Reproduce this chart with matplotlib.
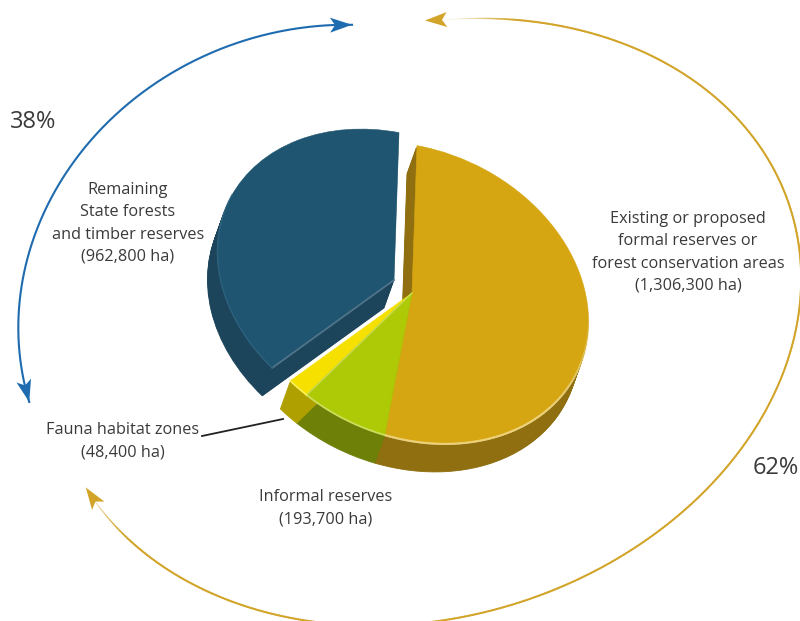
import numpy as np
import matplotlib
matplotlib.use("Agg")
import matplotlib.pyplot as plt
from matplotlib.collections import LineCollection
from matplotlib.colors import to_rgba
from matplotlib.patches import Wedge, Polygon
from matplotlib.transforms import Affine2D

plt.rcParams['font.family'] = ['Open Sans', 'DejaVu Sans']

# Area of each forest tenure class, in hectares
areas = [1306300, 193700, 48400, 962800]
top_colors = ['#D5A612', '#AEC905', '#F5E000', '#1F5570']
side_colors = ['#8F6F10', '#6E8008', '#AFA000', '#1C455C']
offsets = [(0, 0), (0, 0), (0, 0), (-18, -13)]

label_lines = [
    (['Remaining', 'State forests', 'and timber reserves', '(962,800 ha)'], 128, 190),
    (['Existing or proposed', 'formal reserves or', 'forest conservation areas', '(1,306,300 ha)'], 688, 219),
    (['Fauna habitat zones', '(48,400 ha)'], 123, 430),
    (['Informal reserves', '(193,700 ha)'], 326, 497),
]
share_labels = [('38%', 33, 122), ('62%', 775.5, 468)]

# Tilted projection of the pie disc and the extrusion of its rim
CENTER = (412, 293)
AXES = (183, 143)
TILT = 25
DEPTH = (-10, 28)
START = 108.4

BLUE = '#1F6BB0'
GOLD = '#D2A52A'
TEXT = '#3A3A3A'

# Guide points of the two share arrows; each arrow follows the ellipse fitted to them
blue_guide = [(352, 25), (200, 57), (118, 113), (102, 130), (67, 170), (33, 240), (18, 317), (23, 373), (29, 402)]
gold_guide = [(447, 18), (600, 37), (667, 65), (717, 100), (750, 133), (777, 173), (795, 220), (800, 294),
              (760, 421), (727, 468), (683, 511), (633, 548), (600, 568), (313, 620), (213, 597), (147, 557),
              (100, 505), (87, 487)]

fig = plt.figure(figsize=(8, 6.21), dpi=100)
ax = fig.add_axes([0, 0, 1, 1])

wedges, _ = ax.pie(areas, startangle=START, counterclock=False, radius=1, center=(0, 0))


def disc(dx=0, dy=0):
    return (Affine2D().scale(AXES[0], -AXES[1]).rotate_deg(TILT)
            .translate(CENTER[0] + dx, CENTER[1] + dy))


def fading_line(xs, ys, color, widths, alphas, zorder):
    pts = np.column_stack([xs, ys])
    segs = np.stack([pts[:-1], pts[1:]], axis=1)
    r, g, b, _ = to_rgba(color)
    cols = [(r, g, b, a) for a in alphas[:-1]]
    ax.add_collection(LineCollection(segs, colors=cols, linewidths=widths[:-1], zorder=zorder,
                                     capstyle='round'))


# Side walls: the slice repeated along the depth direction, stopping short of the top face
for w, side, off in zip(wedges, side_colors, offsets):
    for f in np.linspace(1, 0.08, 27):
        copy = Wedge(w.center, w.r, w.theta1, w.theta2, facecolor=side, edgecolor=side, lw=0.6,
                     transform=disc(off[0] + DEPTH[0] * f, off[1] + DEPTH[1] * f) + ax.transData)
        ax.add_patch(copy)

# Top faces
for w, top, off in zip(wedges, top_colors, offsets):
    w.set_facecolor(top)
    w.set_edgecolor(top)
    w.set_linewidth(0.4)
    w.set_transform(disc(*off) + ax.transData)
    w.set_zorder(3)


def arc_points(theta1, theta2, off, n=200):
    t = np.radians(np.linspace(theta1, theta2, n))
    return disc(*off).transform(np.column_stack([np.cos(t), np.sin(t)]))


# Bevel highlights: lower rim of the gold slice, rim and seam of the green slice,
# rim of the yellow slice, lower edge and faint rim of the blue slice
gold_w, green_w, yellow_w, blue_w = wedges
rim = arc_points(gold_w.theta1, 22, offsets[0])
fade = np.clip(np.linspace(1.0, 0.0, len(rim)) * 2.2, 0, 1) * 0.9
fading_line(rim[:, 0], rim[:, 1], '#EDD27C', np.full(len(rim), 1.5), fade, 4)

rim = arc_points(green_w.theta1, green_w.theta2, offsets[1])
ax.plot(rim[:, 0], rim[:, 1], color='#CCDF5C', lw=1.3, zorder=4)
apex = disc(*offsets[1]).transform([(0, 0)])[0]
ax.plot([apex[0], rim[0, 0]], [apex[1], rim[0, 1]], color='#C4D84E', lw=1.1, zorder=4)

rim = arc_points(yellow_w.theta1, yellow_w.theta2, offsets[2])
ax.plot(rim[:, 0], rim[:, 1], color='#FBEF5A', lw=1.2, zorder=4)

rim = arc_points(blue_w.theta1, blue_w.theta2, offsets[3])
apex = disc(*offsets[3]).transform([(0, 0)])[0]
ax.plot([apex[0], rim[-1, 0]], [apex[1], rim[-1, 1]], color='#4F7389', lw=1.3, zorder=4)
low = arc_points(blue_w.theta2 - 70, blue_w.theta2, offsets[3])
ax.plot(low[:, 0], low[:, 1], color='#2E627C', lw=1.0, zorder=4)


def fit_ellipse(points):
    """Least-squares conic through the guide points; returns a (t -> xy, xy -> t) pair."""
    p = np.asarray(points, float)
    origin = np.array([410.0, 320.0])
    x, y = (p - origin).T
    A = np.column_stack([x * x, x * y, y * y, x, y])
    a, b, c, d, e = np.linalg.lstsq(A, np.ones(len(p)), rcond=None)[0]
    centre = np.linalg.solve([[2 * a, b], [b, 2 * c]], [-d, -e])
    k = 1 - (a * centre[0] ** 2 + b * centre[0] * centre[1] + c * centre[1] ** 2 + d * centre[0] + e * centre[1])
    vals, vecs = np.linalg.eigh(np.array([[a, b / 2], [b / 2, c]]) / k)
    basis = vecs @ np.diag(1 / np.sqrt(vals))
    inverse = np.linalg.inv(basis)
    centre = centre + origin

    def to_xy(t):
        return (basis @ np.vstack([np.cos(t), np.sin(t)])).T + centre

    def to_t(q):
        u = inverse @ (np.asarray(q, float) - centre)
        return np.arctan2(u[1], u[0])

    return to_xy, to_t


def arrow_arc(points, via, n=600):
    to_xy, to_t = fit_ellipse(points)
    t0, t1, tm = to_t(points[0]), to_t(points[-1]), to_t(via)
    turn = 2 * np.pi
    d_end, d_mid = (t1 - t0) % turn, (tm - t0) % turn
    end = t0 + d_end if d_mid < d_end else t0 - (turn - d_end)
    return to_xy(np.linspace(t0, end, n))


def head(line, color, length=22, half=7.5, notch=5):
    """Stealth head whose tip sits on the final point of the line."""
    tip = line[-1]
    dist = np.hypot(*(line - tip).T)
    back = line[np.where(dist <= length)[0][0]]
    angle = np.arctan2(*(tip - back)[::-1])
    c, s = np.cos(angle), np.sin(angle)
    local = [(0, 0), (-length, half), (-length + notch, 0), (-length, -half)]
    pts = [(tip[0] + c * a - s * b, tip[1] + s * a + c * b) for a, b in local]
    ax.add_patch(Polygon(pts, closed=True, facecolor=color, edgecolor='none', zorder=5))


blue_arc = arrow_arc(blue_guide, (33, 240))
ax.plot(blue_arc[:, 0], blue_arc[:, 1], color=BLUE, lw=1.5, zorder=2)
head(blue_arc, BLUE)
head(blue_arc[::-1], BLUE)

# The gold arrow thins and pales towards both heads
gold_arc = arrow_arc(gold_guide, (800, 294))
steps = np.hypot(*np.diff(gold_arc, axis=0).T)
along = np.concatenate([[0], np.cumsum(steps)])
to_end = np.minimum(along, along[-1] - along)
strength = np.clip(to_end / 70, 0.12, 1)
fading_line(gold_arc[:, 0], gold_arc[:, 1], GOLD, 0.5 + 0.9 * strength, strength, 2)
gold_tip = np.vstack([[425, 20.5], gold_arc])
head(gold_tip[::-1], GOLD)
head(gold_arc, GOLD)

# Text
for lines, x, y0 in label_lines:
    for i, line in enumerate(lines):
        ax.text(x, y0 + i * 22.3, line, ha='center', va='center', fontsize=11.7, color=TEXT)
for s, x, y in share_labels:
    ax.text(x, y, s, ha='center', va='center', fontsize=17, color=TEXT)

ax.plot([202, 283], [436, 419], color='#222222', lw=1.3, zorder=2)

ax.set_aspect('auto')
ax.set_xlim(0, 800)
ax.set_ylim(621, 0)
ax.axis('off')
fig.savefig('out.png', dpi=100, facecolor='white')
